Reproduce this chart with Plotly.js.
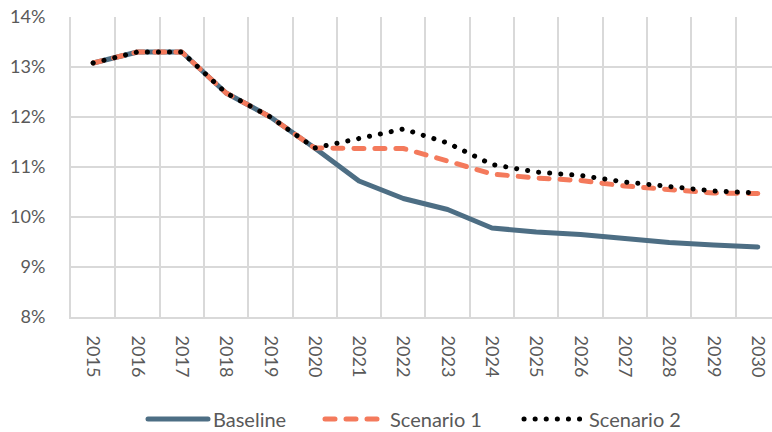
<!DOCTYPE html>
<html>
<head>
<meta charset="utf-8">
<script src="https://cdn.plot.ly/plotly-3.0.1.min.js"></script>
<style>
html,body{margin:0;padding:0;background:#fff;}
#chart{width:772px;height:432px;}
.scatterlayer path.js-line, .legendlines path{stroke-linecap:round !important;stroke-linejoin:round !important;}
</style>
</head>
<body>
<div id="chart"></div>
<script>
const years = ["2015","2016","2017","2018","2019","2020","2021","2022","2023","2024","2025","2026","2027","2028","2029","2030"];
const baseline  = [13.08,13.30,13.30,12.48,12.00,11.38,10.72,10.37,10.15,9.78,9.70,9.65,9.57,9.49,9.44,9.40];
const scenario1 = [13.08,13.30,13.30,12.48,12.00,11.38,11.37,11.37,11.12,10.86,10.78,10.73,10.62,10.56,10.48,10.47];
const scenario2 = [13.08,13.30,13.30,12.48,12.00,11.38,11.57,11.76,11.48,11.05,10.90,10.83,10.70,10.62,10.52,10.48];
const yTickVals = [8,9,10,11,12,13,14];
const yTickText = ["8%","9%","10%","11%","12%","13%","14%"];

const traces = [
  {x: years, y: baseline, name: "Baseline", mode: "lines", legend: "legend",
   line: {color: "#4d6e84", width: 5}},
  {x: years, y: scenario1, name: "Scenario 1", mode: "lines", legend: "legend2",
   line: {color: "#f47a5c", width: 5, dash: "10px,11px"}},
  {x: years, y: scenario2, name: "Scenario 2", mode: "lines", legend: "legend3",
   line: {color: "#000000", width: 5, dash: "0.1px,11px"}}
];

function leg(px) {
  return {orientation: "h", xref: "container", yref: "container",
          x: px / 772, xanchor: "left", y: 1 - 419 / 432, yanchor: "middle",
          itemwidth: 60, font: {size: 20, color: "#595959"}, bgcolor: "rgba(0,0,0,0)"};
}

const layout = {
  width: 772, height: 432,
  margin: {l: 71, r: 0, t: 17, b: 115},
  paper_bgcolor: "#fff", plot_bgcolor: "#fff",
  font: {family: "Lato, 'Open Sans', sans-serif", size: 18, color: "#595959"},
  showlegend: true,
  legend: leg(143), legend2: leg(320), legend3: leg(519),
  xaxis: {type: "category", range: [-0.5, 15.32], tickson: "boundaries",
          showgrid: true, gridcolor: "#d9d9d9", gridwidth: 2,
          showline: true, linecolor: "#d9d9d9", linewidth: 2,
          ticks: "", tickangle: 90, ticklabelstandoff: 13, fixedrange: true},
  yaxis: {range: [8, 14], tickvals: yTickVals, ticktext: yTickText,
          showgrid: true, gridcolor: "#d9d9d9", gridwidth: 2,
          showline: true, linecolor: "#d9d9d9", linewidth: 2, zeroline: false,
          ticks: "", ticklabelstandoff: 20, fixedrange: true}
};

Plotly.newPlot("chart", traces, layout, {displayModeBar: false, staticPlot: true});
</script>
</body>
</html>
